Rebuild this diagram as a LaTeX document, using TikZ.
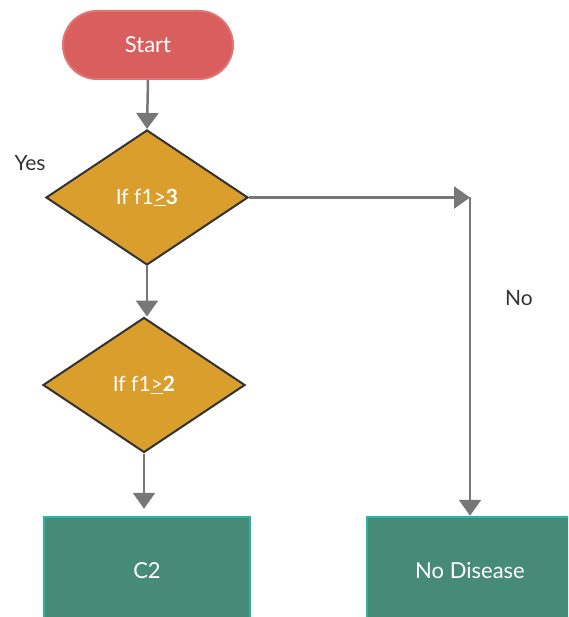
\documentclass[tikz,border=0pt]{standalone}
\usepackage{fontspec}
\setmainfont{Lato}
\usetikzlibrary{shapes.geometric,arrows.meta}
\definecolor{startfill}{HTML}{D95F5E}
\definecolor{startdraw}{HTML}{E67373}
\definecolor{decfill}{HTML}{D99E2B}
\definecolor{decdraw}{HTML}{333333}
\definecolor{boxfill}{HTML}{458B76}
\definecolor{boxdraw}{HTML}{2BB3A8}
\definecolor{arrgray}{HTML}{777777}
\definecolor{lbl}{HTML}{333333}
\tikzset{
  startbox/.style={rectangle, rounded corners=34pt, fill=startfill, draw=startdraw, line width=2pt,
    minimum width=170pt, minimum height=68pt, text=white, font=\fontsize{22}{26}\selectfont},
  decision/.style={diamond, fill=decfill, draw=decdraw, line width=2pt, inner sep=0pt,
    minimum width=202pt, minimum height=135pt, text=white, font=\fontsize{21}{25}\selectfont},
  endbox/.style={rectangle, fill=boxfill, draw=boxdraw, line width=2.5pt,
    minimum width=206pt, minimum height=108pt, text=white, font=\fontsize{22}{26}\selectfont},
  conn/.style={draw=arrgray, line width=2.5pt, -{Triangle[length=16pt,width=22pt]}},
  lab/.style={text=lbl, font=\fontsize{21}{25}\selectfont}
}
\begin{document}
\begin{tikzpicture}[x=1pt,y=-1pt]
\useasboundingbox (0,0) rectangle (568,617);
\clip (0,0) rectangle (568,617);
\node[startbox] (start) at (148,45) {Start};
\node[decision] (d1) at (147,197.5) {If f1\underline{>}\textbf{3}};
\node[decision] (d2) at (144,385) {If f1\underline{>}\textbf{2}};
\node[endbox] (c2) at (147,571) {C2};
\node[endbox] (nd) at (470,571) {No Disease};
\coordinate (corner) at (470,197.5);
\draw[conn] (start.south) -- (d1.north);
\draw[conn] (d1.south) -- (d1.south |- d2.north);
\draw[conn, shorten >=7pt] (d2.south) -- (d2.south |- c2.north);
\draw[conn] (d1.east) -- (corner);
\draw[conn] (corner) -- (nd.north);
\node[lab] (yes) at (30,163) {Yes};
\node[lab] (no) at (519,298) {No};
\end{tikzpicture}
\end{document}
